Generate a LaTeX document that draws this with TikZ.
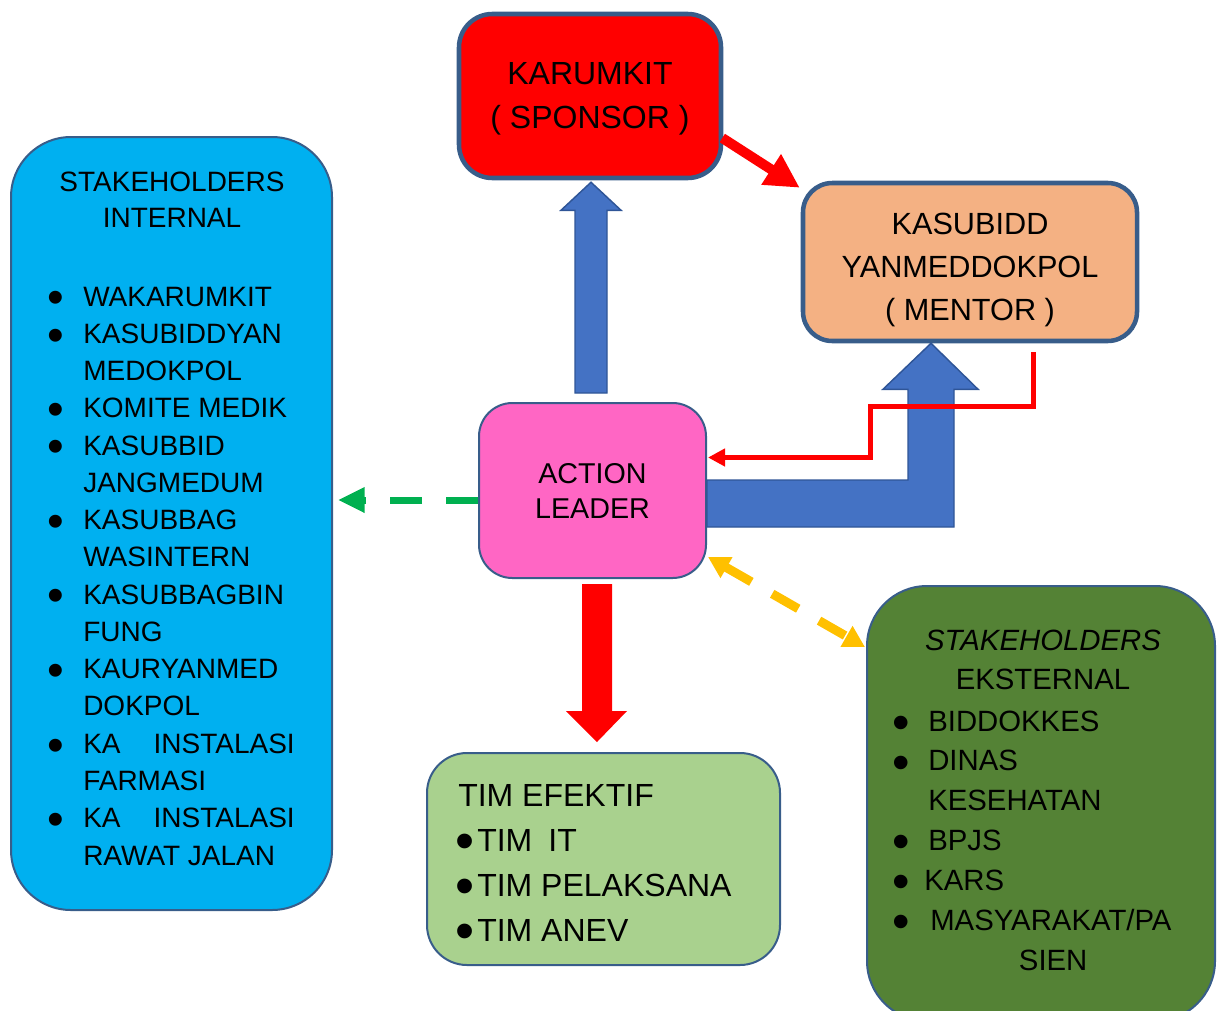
\documentclass[tikz,border=0pt]{standalone}
\usepackage{fontspec}
\setmainfont{Liberation Sans}
\usepackage{graphicx}
\usetikzlibrary{arrows.meta,calc}

\definecolor{edgeblue}{HTML}{385D8A}
\definecolor{kred}{HTML}{FF0000}
\definecolor{mentorfill}{HTML}{F4B183}
\definecolor{internfill}{HTML}{00B0F0}
\definecolor{leadfill}{HTML}{FF66C4}
\definecolor{timfill}{HTML}{A9D18E}
\definecolor{eksfill}{HTML}{548235}
\definecolor{arrowblue}{HTML}{4472C4}
\definecolor{arrowedge}{HTML}{2F5597}
\definecolor{dashgreen}{HTML}{00B050}
\definecolor{dashyellow}{HTML}{FFC000}

% bullet of a list line, and the blank indent of a wrapped line
\newcommand\bitem[1]{\makebox[#1][l]{\smash{\raisebox{-0.28em}{\scalebox{1.7}{\textbullet}}}}}
\newcommand\bcont[1]{\makebox[#1]{}}

\begin{document}
\begin{tikzpicture}[x=0.75pt,y=-0.75pt,
  box/.style={draw=edgeblue, line width=1.5pt, rounded corners=#1, inner sep=0pt, align=center},
  box/.default=25pt,
  txt/.style={inner sep=0pt},
  blockarrow/.style={fill=arrowblue, draw=arrowedge, line width=1.1pt, line join=miter},
]
\useasboundingbox (0,0) rectangle (1223,1010);
\clip (0,0) rectangle (1223,1010);

% ---- boxes
\node[box=25pt, line width=3.4pt, fill=kred, minimum width=196.5pt, minimum height=123pt] (kar) at (590,96) {};
\node[box=22pt, line width=3.4pt, fill=mentorfill, minimum width=250.5pt, minimum height=118.5pt] (men) at (970,262) {};
\node[box=25pt, fill=leadfill, minimum width=170.25pt, minimum height=131.25pt,
      font=\fontsize{21.5}{26.25}\selectfont] (lead) at (592.5,490.5) {ACTION\\LEADER};
\node[box=30pt, fill=timfill, minimum width=264.75pt, minimum height=159pt] (tim) at (603.5,859) {};
\node[box=45pt, fill=internfill, minimum width=240.75pt, minimum height=579.75pt] (intl) at (171.5,523.5) {};
\node[box=45pt, fill=eksfill, minimum width=261pt, minimum height=326.25pt] (ext) at (1041,803.5) {};

% ---- texts of the boxes
\node[txt, align=center, font=\fontsize{24}{33}\selectfont] (karT) at ($(kar.center)+(0,3)$)
  {KARUMKIT\\( SPONSOR )};
\node[txt, align=center, font=\fontsize{23}{32.25}\selectfont] (menT) at ($(men.center)+(0,8)$)
  {KASUBIDD\\YANMEDDOKPOL\\( MENTOR )};

\node[txt, align=center, font=\fontsize{21}{27}\selectfont] (intlT) at (172,200)
  {STAKEHOLDERS\\INTERNAL};
\node[txt, align=left, anchor=west, font=\fontsize{21}{27.95}\selectfont] (intlL) at (47,576)
  {\bitem{27pt}WAKARUMKIT\\
   \bitem{27pt}KASUBIDDYAN\\
   \bcont{27pt}MEDOKPOL\\
   \bitem{27pt}KOMITE MEDIK\\
   \bitem{27pt}KASUBBID\\
   \bcont{27pt}JANGMEDUM\\
   \bitem{27pt}KASUBBAG\\
   \bcont{27pt}WASINTERN\\
   \bitem{27pt}KASUBBAGBIN\\
   \bcont{27pt}FUNG\\
   \bitem{27pt}KAURYANMED\\
   \bcont{27pt}DOKPOL\\
   \bitem{27pt}KA\hspace{24.75pt}INSTALASI\\
   \bcont{27pt}FARMASI\\
   \bitem{27pt}KA\hspace{24.75pt}INSTALASI\\
   \bcont{27pt}RAWAT JALAN};

\node[txt, align=center, font=\fontsize{22}{29.25}\selectfont] (extT) at (1043,659.5)
  {\itshape STAKEHOLDERS\\EKSTERNAL};
\node[txt, align=left, anchor=west, font=\fontsize{22}{29.9}\selectfont] (extL) at (892,840.5)
  {\bitem{27pt}BIDDOKKES\\
   \bitem{27pt}DINAS\\
   \bcont{27pt}KESEHATAN\\
   \bitem{27pt}BPJS\\
   \bitem{24pt}KARS\\
   \bitem{28.5pt}MASYARAKAT/PA\\
   \bcont{95pt}SIEN};

\node[txt, align=left, anchor=west, font=\fontsize{24}{33.75}\selectfont] (timL) at (455,862.5)
  {\bcont{2.25pt}TIM EFEKTIF\\
   \bitem{16.5pt}TIM\hspace{0.5em}IT\\
   \bitem{16.5pt}TIM PELAKSANA\\
   \bitem{16.5pt}TIM ANEV};

% ---- block arrow: action leader up to the sponsor
\coordinate (tipA) at ($(kar.south)+(1,2)$);
\draw[blockarrow] (tipA) -- ++(30,28) -- ++(-14,0) |- ($(lead.north)+(-17.5,-9)$)
  |- ($(tipA)+(-30,28)$) -- cycle;

% ---- bent block arrow: action leader to the mentor
\coordinate (tipB) at ($(men.south)+(-39,0)$);
\draw[blockarrow] (tipB) -- ++(47,46) -- ++(-24,0) |- ($(lead.east)+(0,36.5)$)
  -- ($(lead.east)+(0,-10.5)$) -| ($(tipB)+(-23,46)$) -- ++(-25,0) -- cycle;

% ---- block arrow: action leader down to the team
\fill[kred] ($(lead.south)+(-10.5,5)$) -- ++(30,0) -- ++(0,127) -- ++(15,0)
  -- ($(tim.north)+(-6.5,-10)$) -- ++(-31,-31) -- ++(16,0) -- cycle;

% ---- sponsor to mentor
\draw[kred, line width=7.5pt, -{Triangle[length=25.5pt,width=25.5pt]}]
  ($(kar.east)+(-1,42)$) -- ($(men.north west)+(-1,7)$);

% ---- mentor feedback to the action leader
\coordinate (elbow) at (870,406);
\draw[kred, line width=3.75pt, -{Triangle[length=12.75pt,width=12.75pt]}]
  ($(men.south)+(63,9)$) |- (elbow) |- ($(lead.east)+(1,-33)$);

% ---- action leader to internal stakeholders
\coordinate (gs) at ($(lead.west)+(0,9.5)$);
\draw[dashgreen, line width=5.25pt, dash pattern=on 24pt off 18pt,
      -{Triangle[length=20pt,width=18pt]}] (gs) -- ($(gs -| intl.east)+(5,0)$);

% ---- action leader and external stakeholders
\draw[dashyellow, line width=6.75pt, dash pattern=on 22.5pt off 18pt,
      {Triangle[length=16pt,width=17pt]}-{Triangle[length=16pt,width=17pt]}]
  ($(lead.south east)+(1,-22)$) -- ($(ext.north west)+(-1,62)$);
\end{tikzpicture}
\end{document}
